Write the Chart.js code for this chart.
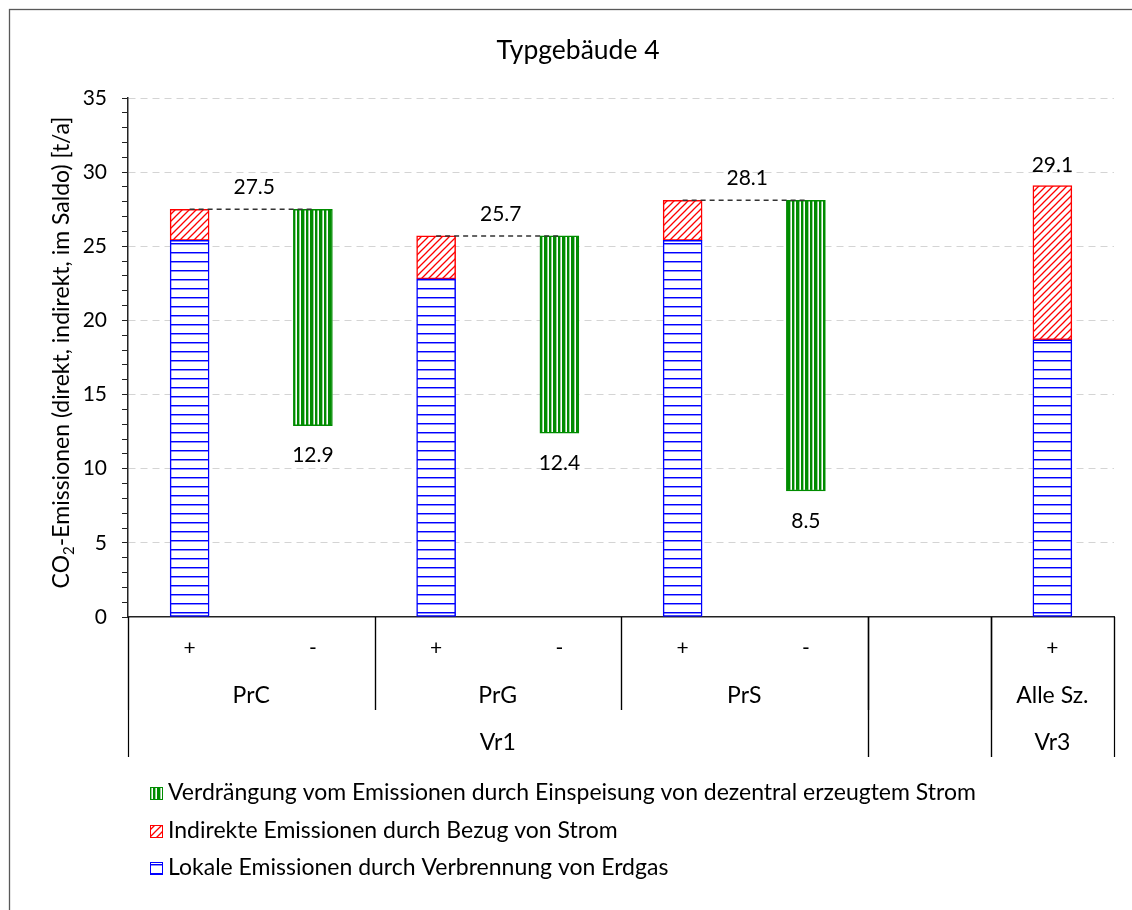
<!DOCTYPE html>
<html><head><meta charset="utf-8">
<script src="https://cdn.jsdelivr.net/npm/chart.js@4.4.1/dist/chart.umd.min.js"></script>
<style>html,body{margin:0;padding:0;background:#fff;}#wrap{width:1132px;height:910px;}canvas{display:block;}</style>
</head><body><div id="wrap"><canvas id="c" width="1132" height="910"></canvas></div>
<script>
// ---------- data ----------
const chartTitle = 'Typgebäude 4';
const yTitleMain = 'CO';
const yTitleSub = '2';
const yTitleRest = '-Emissionen (direkt, indirekt, im Saldo) [t/a]';
const slotLabels = ['+', '-', '+', '-', '+', '-', '', '+'];
const scenarioLabels = ['PrC', 'PrG', 'PrS', '', 'Alle Sz.'];
const scenarioSpans = [2, 2, 2, 1, 1];
const variantLabels = ['Vr1', '', 'Vr3'];
const variantSpans = [6, 1, 1];
const localEmissions = [25.4, null, 22.8, null, 25.4, null, null, 18.7];
const totalEmissions = [27.5, null, 25.7, null, 28.1, null, null, 29.1];
const displacedUpper = [null, 27.5, null, 25.7, null, 28.1, null, null];
const displacedLower = [null, 12.9, null, 12.4, null, 8.5, null, null];
const nameDisplaced = 'Verdrängung vom Emissionen durch Einspeisung von dezentral erzeugtem Strom';
const nameIndirect = 'Indirekte Emissionen durch Bezug von Strom';
const nameLocal = 'Lokale Emissionen durch Verbrennung von Erdgas';
const yMin = 0, yMax = 35, yMajor = 5, yMinor = 1;

// ---------- styles ----------
const FONT = 'Lato, "Open Sans", sans-serif';
const NUM = 21;   // numbers
const TXT = 23;   // words
Chart.defaults.font.family = FONT;
Chart.defaults.color = '#000';
const BLUE = '#0000ff', RED = '#ff0000', GREEN = '#008c00';

const cv = document.getElementById('c');
const mainCtx = cv.getContext('2d');
function makePattern(w, h, draw) {
  const c = document.createElement('canvas'); c.width = w; c.height = h;
  const g = c.getContext('2d'); g.fillStyle = '#fff'; g.fillRect(0, 0, w, h);
  draw(g, w, h); return mainCtx.createPattern(c, 'repeat');
}
const bluePat = makePattern(8, 9, (g, w) => { g.fillStyle = BLUE; g.fillRect(0, 0, w, 1); g.fillStyle = 'rgba(0,0,255,0.45)'; g.fillRect(0, 1, w, 1); });
const redPat = makePattern(7, 7, (g) => {
  g.strokeStyle = RED; g.lineWidth = 1.3; g.beginPath();
  g.moveTo(-1, 8); g.lineTo(8, -1); g.moveTo(-1, 1); g.lineTo(1, -1); g.moveTo(6, 8); g.lineTo(8, 6); g.stroke();
});
const greenPat = makePattern(9, 4, (g, w, h) => {
  g.fillStyle = GREEN; g.fillRect(0, 0, 2, h); g.fillRect(4, 0, 3, h);
  g.fillStyle = 'rgba(0,140,0,0.4)'; g.fillRect(2, 0, 1, h); g.fillRect(7, 0, 1, h);
});

const datasets = [
  { type: 'bar', label: nameLocal, data: localEmissions, backgroundColor: bluePat, borderColor: BLUE, borderWidth: 1.5, borderSkipped: false, barThickness: 39, order: 1, legendOrder: 3 },
  { type: 'bar', label: nameIndirect, data: localEmissions.map((v, i) => v == null ? null : [v, totalEmissions[i]]), backgroundColor: redPat, borderColor: RED, borderWidth: 1.5, borderSkipped: false, barThickness: 39, order: 1, legendOrder: 2 },
  { type: 'bar', label: nameDisplaced, data: displacedUpper.map((v, i) => v == null ? null : [displacedLower[i], v]), backgroundColor: greenPat, borderColor: GREEN, borderWidth: 1.5, borderSkipped: false, barThickness: 39, order: 1, legendOrder: 1 }
];
for (let i = 0; i < slotLabels.length - 1; i++) {
  if (totalEmissions[i] != null && displacedUpper[i + 1] != null) {
    const d = slotLabels.map(() => null);
    d[i] = totalEmissions[i]; d[i + 1] = displacedUpper[i + 1];
    datasets.push({ type: 'line', data: d, borderColor: '#333', borderWidth: 1.5, borderDash: [5, 4], pointRadius: 0, spanGaps: false, order: 0 });
  }
}

const deco = {
  id: 'deco',
  afterDraw(chart) {
    const { ctx, chartArea: ca, scales: { x, y } } = chart;
    ctx.save();
    // outer frame
    ctx.strokeStyle = '#595959'; ctx.lineWidth = 1.3;
    ctx.strokeRect(9.5, 9.5, 1150, 930);

    // chart title
    ctx.fillStyle = '#000'; ctx.textAlign = 'center'; ctx.textBaseline = 'middle';
    ctx.font = `26.5px ${FONT}`;
    ctx.fillText(chartTitle, 578, 50);

    const edge = i => x.getPixelForValue(i - 0.5);
    const center = (a, b) => (edge(a) + edge(b)) / 2;
    // level 1
    ctx.font = `${NUM}px ${FONT}`;
    slotLabels.forEach((t, i) => ctx.fillText(t, x.getPixelForValue(i), ca.bottom + 31));
    // level 2 & separators
    ctx.font = `${TXT}px ${FONT}`;
    ctx.strokeStyle = '#000'; ctx.lineWidth = 1.2;
    let s = 0;
    const vline = (px, y2) => { ctx.beginPath(); ctx.moveTo(Math.round(px) + 0.5, ca.bottom); ctx.lineTo(Math.round(px) + 0.5, y2); ctx.stroke(); };
    scenarioLabels.forEach((t, k) => {
      const e = s + scenarioSpans[k];
      ctx.fillText(t, center(s, e), ca.bottom + 79);
      vline(edge(s), ca.bottom + 93); vline(edge(e), ca.bottom + 93);
      s = e;
    });
    s = 0;
    variantLabels.forEach((t, k) => {
      const e = s + variantSpans[k];
      ctx.fillText(t, center(s, e), ca.bottom + 126);
      vline(edge(s), ca.bottom + 140); vline(edge(e), ca.bottom + 140);
      s = e;
    });

    // value labels
    ctx.font = `${NUM}px ${FONT}`;
    for (let i = 0; i < slotLabels.length; i++) {
      if (totalEmissions[i] != null) {
        if (displacedUpper[i + 1] != null) {
          ctx.fillText(totalEmissions[i].toFixed(1), (x.getPixelForValue(i) + x.getPixelForValue(i + 1)) / 2 + 3, y.getPixelForValue(totalEmissions[i]) - 22);
        } else {
          ctx.fillText(totalEmissions[i].toFixed(1), x.getPixelForValue(i), y.getPixelForValue(totalEmissions[i]) - 20);
        }
      }
      if (displacedLower[i] != null) {
        ctx.fillText(displacedLower[i].toFixed(1), x.getPixelForValue(i), y.getPixelForValue(displacedLower[i]) + 30);
      }
    }

    // y axis title with subscript
    ctx.save();
    ctx.translate(62, (ca.top + ca.bottom) / 2 - 5);
    ctx.rotate(-Math.PI / 2);
    ctx.textAlign = 'left'; ctx.textBaseline = 'middle';
    const mainFont = `${TXT}px ${FONT}`;
    const subFont = `${Math.round(TXT * 0.65)}px ${FONT}`;
    ctx.font = mainFont;
    const w1 = ctx.measureText(yTitleMain).width, w3 = ctx.measureText(yTitleRest).width;
    ctx.font = subFont; const w2 = ctx.measureText(yTitleSub).width;
    let tx = -(w1 + w2 + w3) / 2;
    ctx.font = mainFont; ctx.fillText(yTitleMain, tx, 0); tx += w1;
    ctx.font = subFont; ctx.fillText(yTitleSub, tx, 7); tx += w2;
    ctx.font = mainFont; ctx.fillText(yTitleRest, tx, 0);
    ctx.restore();

    // legend
    const legendItems = chart.data.datasets.filter(d => d.legendOrder).sort((a, b) => a.legendOrder - b.legendOrder);
    legendItems.forEach((d, k) => {
      const cy = ca.bottom + 176 + k * 37.5;
      const bx = 150, bs = 12;
      const by = Math.round(cy - bs / 2);
      ctx.fillStyle = d.backgroundColor; ctx.fillRect(bx, by, bs, bs);
      ctx.strokeStyle = d.borderColor; ctx.lineWidth = 1; ctx.strokeRect(bx + 0.5, by + 0.5, bs, bs);
      ctx.fillStyle = '#000'; ctx.textAlign = 'left'; ctx.font = `${TXT}px ${FONT}`;
      ctx.fillText(d.label, bx + bs + 6, cy);
    });
    ctx.restore();
  }
};

new Chart(cv, {
  data: { labels: slotLabels, datasets },
  options: {
    responsive: false, animation: false, devicePixelRatio: 1,
    layout: { padding: { left: 0, right: 18, top: 98, bottom: 0 } },
    plugins: { legend: { display: false }, tooltip: { enabled: false }, title: { display: false } },
    scales: {
      x: {
        type: 'category', stacked: true, offset: true,
        grid: { display: false, drawTicks: false },
        border: { display: true, color: '#222', width: 1.5 },
        ticks: { display: false },
        afterFit(sc) { sc.height = 293; }
      },
      y: {
        min: yMin, max: yMax, stacked: false,
        ticks: { stepSize: yMinor, autoSkip: false, padding: 15, color: '#000', font: { family: FONT, size: NUM },
          callback: v => (v % yMajor === 0 ? String(v) : '') },
        grid: {
          color: c => (c.tick && c.tick.value % yMajor === 0 && c.tick.value !== 0) ? '#d4d4d4' : 'rgba(0,0,0,0)',
          lineWidth: 1, tickColor: '#222', tickLength: 6, tickWidth: 1, tickBorderDash: []
        },
        border: { display: true, color: '#222', width: 1.5, dash: [7, 5] },
        afterFit(sc) { sc.width = 128; }
      }
    }
  },
  plugins: [deco]
});
</script></body></html>
